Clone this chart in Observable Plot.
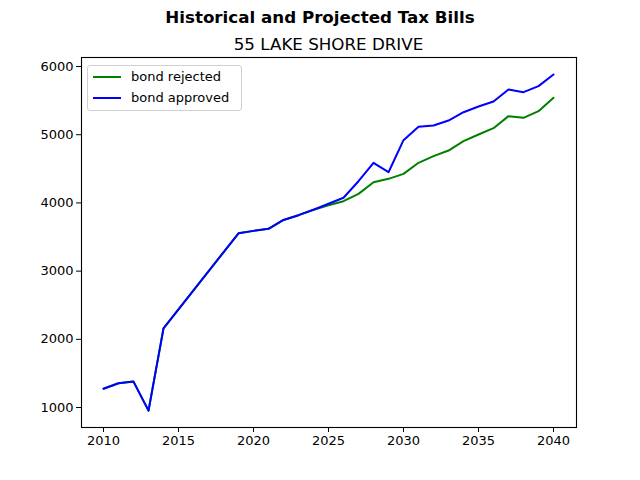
<!DOCTYPE html>
<html>
<head>
<meta charset="utf-8">
<script src="https://cdn.jsdelivr.net/npm/d3@7"></script>
<script src="https://cdn.jsdelivr.net/npm/@observablehq/plot@0.6"></script>
<style>
  body { margin: 0; background: #fff; font-family: "DejaVu Sans", sans-serif; }
  #wrap { position: relative; width: 640px; height: 480px; }
  #suptitle { position: absolute; left: 0; width: 640px; top: 6px; text-align: center; font-weight: bold; font-size: 16.7px; line-height: 22px; }
  #title { position: absolute; left: 81px; width: 495px; top: 33px; text-align: center; font-size: 16.7px; line-height: 22px; }
  #chart { position: absolute; left: 0; top: 52px; }
  #legend { position: absolute; left: 87px; top: 65px; width: 153px; height: 44px; border: 1px solid #d0d0d0; border-radius: 3px; background: rgba(255,255,255,0.8); font-size: 13px; }
  .item { position: absolute; left: 0; height: 20px; line-height: 20px; }
  .swatch { position: absolute; left: 5px; top: 9px; width: 28px; height: 2px; }
  .lab { position: absolute; left: 43px; white-space: nowrap; }
</style>
</head>
<body>
<div id="wrap">
  <div id="suptitle">Historical and Projected Tax Bills</div>
  <div id="title">55 LAKE SHORE DRIVE</div>
  <div id="chart"></div>
  <div id="legend"></div>
</div>
<script>
const years    = [2010, 2011, 2012, 2013, 2014, 2019, 2020, 2021, 2022, 2023, 2024, 2025, 2026, 2027, 2028, 2029, 2030, 2031, 2032, 2033, 2034, 2035, 2036, 2037, 2038, 2039, 2040];
const rejected = [1275, 1355, 1380, 955, 2160, 3555, 3590, 3620, 3750, 3820, 3900, 3966, 4025, 4133, 4304, 4353, 4425, 4588, 4685, 4768, 4905, 5003, 5096, 5272, 5247, 5345, 5541];
const approved = [1275, 1355, 1380, 955, 2160, 3555, 3590, 3620, 3750, 3820, 3900, 3987, 4075, 4318, 4588, 4450, 4920, 5116, 5135, 5208, 5330, 5413, 5487, 5663, 5624, 5712, 5883];
const seriesNames  = ["bond rejected", "bond approved"];
const seriesColors = ["green", "blue"];
const xTicks = [2010, 2015, 2020, 2025, 2030, 2035, 2040];
const yTicks = [1000, 2000, 3000, 4000, 5000, 6000];

const rows = [];
[rejected, approved].forEach((vals, s) => {
  years.forEach((y, i) => rows.push({year: y, value: vals[i], series: seriesNames[s]}));
});

const chart = Plot.plot({
  width: 640,
  height: 428,
  marginTop: 5,
  marginBottom: 53,
  marginLeft: 81,
  marginRight: 64,
  style: { fontFamily: "DejaVu Sans, sans-serif", fontSize: "13px", color: "black", background: "white" },
  x: { domain: [2008.533, 2041.533], ticks: xTicks, tickFormat: "d", tickSize: 5, tickPadding: 3, label: null, line: false },
  y: { domain: [707, 6132], ticks: yTicks, tickFormat: "d", tickSize: 5, tickPadding: 3, label: null },
  color: { domain: seriesNames, range: seriesColors },
  marks: [
    Plot.line(rows, { x: "year", y: "value", z: "series", stroke: "series", strokeWidth: 2 }),
    Plot.frame({ stroke: "black", strokeWidth: 1.1 })
  ]
});
document.getElementById("chart").appendChild(chart);

const legend = document.getElementById("legend");
seriesNames.forEach((name, i) => {
  const it = document.createElement("div");
  it.className = "item";
  it.style.top = (1 + i * 20.5) + "px";
  it.innerHTML = `<div class="swatch" style="background:${seriesColors[i]}"></div><div class="lab">${name}</div>`;
  legend.appendChild(it);
});
</script>
</body>
</html>
